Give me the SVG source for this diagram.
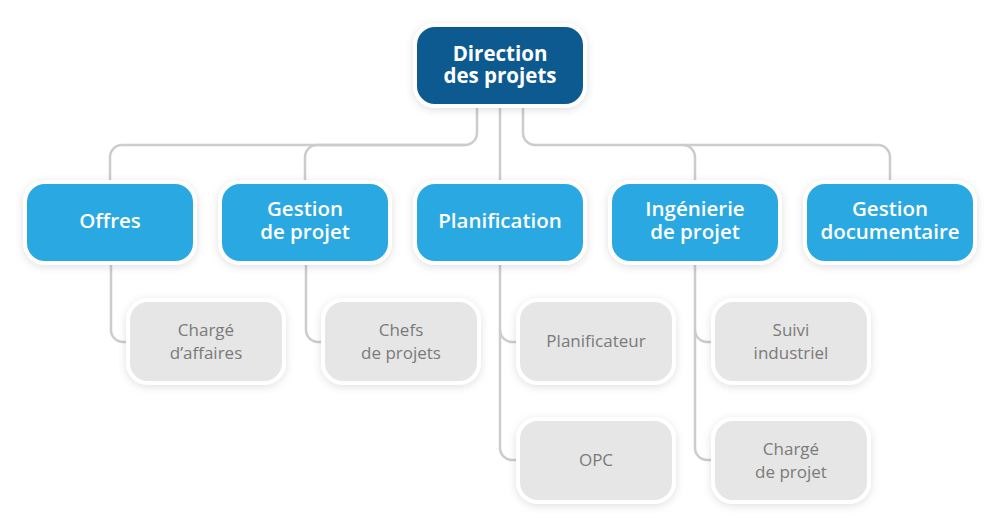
<svg xmlns="http://www.w3.org/2000/svg" width="1000" height="526" viewBox="0 0 1000 526">
<style>
.box{stroke:#ffffff;stroke-width:4;filter:url(#sh)}
.l1{fill:#0b5a90}
.l2{fill:#2aa8e2}
.l3{fill:#e6e6e6}
.t1{font-family:"Open Sans","Noto Sans",sans-serif;font-weight:700;font-size:20.5px;fill:#ffffff;text-anchor:middle}
.t2{font-family:"Open Sans","Noto Sans",sans-serif;font-weight:600;font-size:20.5px;fill:#ffffff;text-anchor:middle}
.t3{font-family:"Open Sans","Noto Sans",sans-serif;font-weight:400;font-size:17px;fill:#7a7a7a;text-anchor:middle}
.c{fill:none;stroke:#cccccc;stroke-width:2.5}
</style>
<defs>
<filter id="sh" x="-20%" y="-30%" width="140%" height="160%">
<feDropShadow dx="0" dy="2" stdDeviation="4" flood-color="#000000" flood-opacity="0.12"/>
</filter>
</defs>
<rect width="1000" height="526" fill="#ffffff"/>
<g id="connectors">
<path class="c" d="M477 106 V133 A12 12 0 0 1 465 145 H122 A12 12 0 0 0 110 157 V182"/>
<path class="c" d="M465 145 H317 A12 12 0 0 0 305 157 V182"/>
<path class="c" d="M500 106 V182"/>
<path class="c" d="M523 106 V133 A12 12 0 0 0 535 145 H683 A12 12 0 0 1 695 157 V182"/>
<path class="c" d="M683 145 H878 A12 12 0 0 1 890 157 V182"/>
<path class="c" d="M111 262 V330 A12 12 0 0 0 123 342 H128"/>
<path class="c" d="M306 262 V330 A12 12 0 0 0 318 342 H323"/>
<path class="c" d="M500 262 V330 A12 12 0 0 0 512 342 H518"/>
<path class="c" d="M500 330 V448 A12 12 0 0 0 512 460 H518"/>
<path class="c" d="M695 262 V330 A12 12 0 0 0 707 342 H713"/>
<path class="c" d="M695 330 V448 A12 12 0 0 0 707 460 H713"/>
</g>
<g id="direction">
<rect class="box l1" x="415" y="25" width="170" height="81" rx="20"/>
<text class="t1" x="500" y="61"><tspan x="500">Direction</tspan><tspan x="500" dy="22">des projets</tspan></text>
</g>
<g id="offres">
<rect class="box l2" x="25" y="182" width="170" height="81" rx="20"/>
<text class="t2" x="110" y="228">Offres</text>
</g>
<g id="gestion-projet">
<rect class="box l2" x="220" y="182" width="170" height="81" rx="20"/>
<text class="t2" x="305" y="216"><tspan x="305">Gestion</tspan><tspan x="305" dy="23">de projet</tspan></text>
</g>
<g id="planification">
<rect class="box l2" x="415" y="182" width="170" height="81" rx="20"/>
<text class="t2" x="500" y="228">Planification</text>
</g>
<g id="ingenierie">
<rect class="box l2" x="610" y="182" width="170" height="81" rx="20"/>
<text class="t2" x="695" y="216"><tspan x="695">Ingénierie</tspan><tspan x="695" dy="23">de projet</tspan></text>
</g>
<g id="gestion-doc">
<rect class="box l2" x="805" y="182" width="170" height="81" rx="20"/>
<text class="t2" x="890" y="216"><tspan x="890">Gestion</tspan><tspan x="890" dy="23">documentaire</tspan></text>
</g>
<g id="charge-affaires">
<rect class="box l3" x="128" y="300" width="156" height="83" rx="20"/>
<text class="t3" x="206" y="336"><tspan x="206">Chargé</tspan><tspan x="206" dy="23">d’affaires</tspan></text>
</g>
<g id="chefs-projets">
<rect class="box l3" x="323" y="300" width="156" height="83" rx="20"/>
<text class="t3" x="401" y="336"><tspan x="401">Chefs</tspan><tspan x="401" dy="23">de projets</tspan></text>
</g>
<g id="planificateur">
<rect class="box l3" x="518" y="300" width="156" height="83" rx="20"/>
<text class="t3" x="596" y="347">Planificateur</text>
</g>
<g id="opc">
<rect class="box l3" x="518" y="419" width="156" height="83" rx="20"/>
<text class="t3" x="596" y="466">OPC</text>
</g>
<g id="suivi-industriel">
<rect class="box l3" x="713" y="300" width="156" height="83" rx="20"/>
<text class="t3" x="791" y="336"><tspan x="791">Suivi</tspan><tspan x="791" dy="23">industriel</tspan></text>
</g>
<g id="charge-projet">
<rect class="box l3" x="713" y="419" width="156" height="83" rx="20"/>
<text class="t3" x="791" y="455"><tspan x="791">Chargé</tspan><tspan x="791" dy="23">de projet</tspan></text>
</g>
</svg>
